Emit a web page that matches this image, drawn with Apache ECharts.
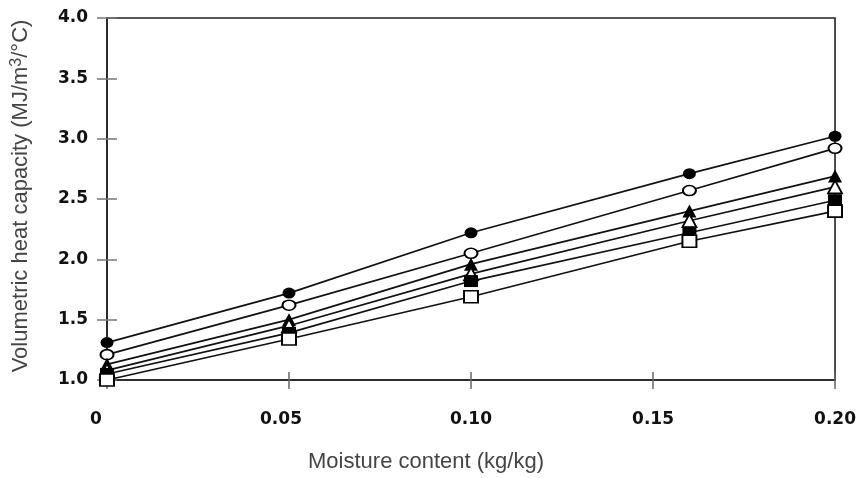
<!DOCTYPE html>
<html>
<head>
<meta charset="utf-8">
<script src="https://cdn.jsdelivr.net/npm/echarts@6/dist/echarts.min.js"></script>
<style>
html,body{margin:0;padding:0;background:#fff;}
#chart{width:859px;height:478px;}
</style>
</head>
<body>
<div id="chart"></div>
<script>
const moisture = [0, 0.05, 0.10, 0.16, 0.20];
const filledCircle   = [1.31, 1.72, 2.22, 2.71, 3.02];
const openCircle     = [1.21, 1.62, 2.05, 2.57, 2.92];
const filledTriangle = [1.13, 1.50, 1.96, 2.40, 2.69];
const openTriangle   = [1.08, 1.45, 1.88, 2.32, 2.60];
const filledSquare   = [1.05, 1.39, 1.82, 2.22, 2.49];
const openSquare     = [1.00, 1.34, 1.69, 2.15, 2.40];
const xTickLabels = ['0', '0.05', '0.10', '0.15', '0.20'];
const yTickLabels = ['1.0', '1.5', '2.0', '2.5', '3.0', '3.5', '4.0'];

const chart = echarts.init(document.getElementById('chart'), null, {renderer: 'canvas'});
const pair = arr => arr.map((v, i) => [moisture[i], v]);
const lineCol = '#111';
function mk(name, data, symbol, filled, size) {
  return {
    name: name, type: 'line', data: pair(data), symbol: symbol, symbolSize: size,
    showSymbol: true,
    lineStyle: {color: lineCol, width: 1.7},
    itemStyle: {color: filled ? '#000' : '#fff', borderColor: '#000', borderWidth: filled ? 0 : 1.8, opacity: 1},
    emphasis: {disabled: true}, animation: false, z: 3
  };
}
const tickFont = {fontFamily: 'DejaVu Sans', fontWeight: 'bold', fontSize: 17, color: '#111'};
const titleFont = 'Liberation Sans';
chart.setOption({
  backgroundColor: '#fff',
  animation: false,
  grid: {left: 107, top: 18, right: 22, bottom: 95, show: true, borderColor: '#222', borderWidth: 1.6, containLabel: false},
  xAxis: [{
    type: 'value', min: 0, max: 0.2, interval: 0.05, position: 'bottom',
    axisLine: {show: true, lineStyle: {color: '#222', width: 1.6}},
    axisTick: {show: true, inside: false, length: 9, lineStyle: {color: '#666', width: 1.5}},
    splitLine: {show: false},
    axisLabel: Object.assign({}, tickFont, {
      margin: 31,
      formatter: function (v) {
        const idx = Math.round(v / 0.05);
        const t = xTickLabels[idx];
        if (idx === 0) return '{z|' + t + '}';
        if (idx === 1) return '{f|' + t + '}';
        return t;
      },
      rich: {
        z: {fontFamily: 'DejaVu Sans', fontWeight: 'bold', fontSize: 17, color: '#111', padding: [0, 22, 0, 0]},
        f: {fontFamily: 'DejaVu Sans', fontWeight: 'bold', fontSize: 17, color: '#111', padding: [0, 16, 0, 0]}
      }
    }),
    name: 'Moisture content (kg/kg)', nameLocation: 'middle', nameGap: 71,
    nameTextStyle: {fontFamily: titleFont, fontSize: 22, color: '#444', padding: [0, 90, 0, 0]}
  }, {
    type: 'value', min: 0, max: 0.2, interval: 0.05, position: 'bottom',
    axisLine: {show: false}, axisLabel: {show: false}, splitLine: {show: false},
    axisTick: {show: true, inside: true, length: 8, lineStyle: {color: '#666', width: 1.5}}
  }],
  yAxis: [{
    type: 'value', min: 1, max: 4, interval: 0.5, position: 'left',
    axisLine: {show: true, lineStyle: {color: '#222', width: 1.6}},
    axisTick: {show: true, inside: false, length: 10, lineStyle: {color: '#777', width: 1.5}},
    splitLine: {show: false},
    axisLabel: Object.assign({}, tickFont, {
      margin: 19,
      formatter: function (v) { return yTickLabels[Math.round((v - 1) / 0.5)]; }
    }),
    name: '{a|Volumetric heat capacity (MJ/m}{s|3}{a|/°C)}',
    nameLocation: 'middle', nameGap: 50,
    nameTextStyle: {
      fontFamily: titleFont, fontSize: 22, color: '#444', padding: [0, 0, 0, 6],
      rich: {
        a: {fontFamily: titleFont, fontSize: 22, color: '#444', lineHeight: 23, verticalAlign: 'bottom'},
        s: {fontFamily: titleFont, fontSize: 16, color: '#444', lineHeight: 16, verticalAlign: 'top', padding: [0, 0, 22, 0]}
      }
    }
  }, {
    type: 'value', min: 1, max: 4, interval: 0.5, position: 'left',
    axisLine: {show: false}, axisLabel: {show: false}, splitLine: {show: false},
    axisTick: {show: true, inside: true, length: 10, lineStyle: {color: '#777', width: 1.5}}
  }],
  series: [
    mk('s1', filledCircle, 'circle', true, [13, 11]),
    mk('s2', openCircle, 'circle', false, [13, 10]),
    mk('s3', filledTriangle, 'triangle', true, [14, 13]),
    mk('s4', openTriangle, 'triangle', false, [14, 13]),
    mk('s5', filledSquare, 'rect', true, [14, 12]),
    mk('s6', openSquare, 'rect', false, [14, 12])
  ]
});
</script>
</body>
</html>
